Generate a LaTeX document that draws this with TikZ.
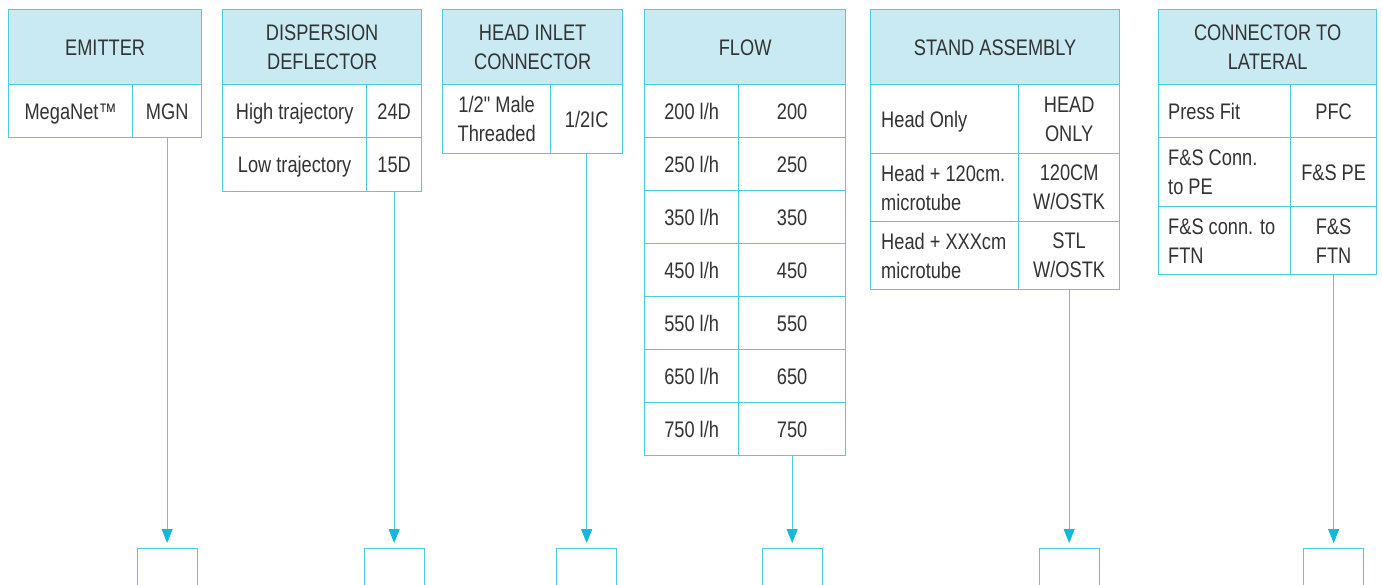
\documentclass[tikz,border=0pt]{standalone}
\usepackage{fontspec}
\setmainfont{Liberation Sans}[FakeStretch=0.81]
\newfontfamily\plainf{Liberation Sans}[FakeStretch=0.81]
\usetikzlibrary{arrows.meta}
\definecolor{linec}{HTML}{4CCBE3}
\definecolor{hdfill}{HTML}{C9EAF3}
\definecolor{arrc}{HTML}{12B9D9}
\definecolor{txt}{HTML}{333333}
\begin{document}
\begin{tikzpicture}[x=1pt,y=-1pt,
  every node/.style={font=\fontsize{22.5}{29}\selectfont, text=txt, inner sep=0pt},
  hd/.style={draw=linec, fill=hdfill, line width=1.3pt, anchor=north west, align=center},
  cl/.style={draw=linec, fill=white, line width=1.3pt, anchor=north west, align=center},
  sl/.style={text height=16pt, text depth=0pt},
  lt/.style={anchor=west, align=left},
  outbox/.style={draw=linec, line width=1.3pt, anchor=north, minimum width=60pt, minimum height=70pt},
  conn/.style={draw=linec, line width=1pt, shorten >=5pt, -{Triangle[length=14pt,width=11pt,fill=arrc,color=arrc]}}]
\clip (0,0) rectangle (1382,584);
\fill[white] (0,0) rectangle (1382,584);
% EMITTER
\node[hd, sl, minimum width=193pt, minimum height=75pt] (eh) at (8,9) {EMITTER};
\node[cl, sl, minimum width=124pt, minimum height=53pt] (e1) at (8,84) {MegaNet™};
\node[cl, sl, minimum width=69pt, minimum height=53pt] (e2) at (132,84) {MGN};
% DISPERSION DEFLECTOR
\node[hd, minimum width=199pt, minimum height=75pt] (dh) at (222,9) {DISPERSION\\DEFLECTOR};
\node[cl, sl, minimum width=144pt, minimum height=53pt] (d1) at (222,84) {High trajectory};
\node[cl, sl, minimum width=55pt, minimum height=53pt] (d2) at (366,84) {24D};
\node[cl, sl, minimum width=144pt, minimum height=54pt] (d3) at (222,137) {Low trajectory};
\node[cl, sl, minimum width=55pt, minimum height=54pt] (d4) at (366,137) {15D};
% HEAD INLET CONNECTOR
\node[hd, minimum width=180pt, minimum height=75pt] (hh) at (442,9) {HEAD INLET\\CONNECTOR};
\node[cl, minimum width=108pt, minimum height=69pt] (h1) at (442,84) {{\plainf 1/2" Male}\\Threaded};
\node[cl, sl, minimum width=72pt, minimum height=69pt] (h2) at (550,84) {1/2IC};
% FLOW
\node[hd, sl, minimum width=201pt, minimum height=75pt] (fh) at (644,9) {FLOW};
\foreach \v [count=\i from 0] in {200,250,350,450,550,650,750} {
  \node[cl, sl, minimum width=94pt, minimum height=53pt] (fa\i) at (644,84+53*\i) {\v{} l/h};
  \node[cl, sl, minimum width=107pt, minimum height=53pt] (fb\i) at (738,84+53*\i) {\v};
}
% STAND ASSEMBLY
\node[hd, sl, minimum width=249pt, minimum height=75pt] (sh) at (870,9) {STAND ASSEMBLY};
\node[cl, minimum width=148pt, minimum height=69pt] (s1) at (870,84) {};
\node[lt, sl] (s1t) at ([xshift=11pt]s1.west) {Head Only};
\node[cl, minimum width=101pt, minimum height=69pt] (s2) at (1018,84) {HEAD\\ONLY};
\node[cl, minimum width=148pt, minimum height=68pt] (s3) at (870,153) {};
\node[lt] (s3t) at ([xshift=11pt]s3.west) {Head + 120cm.\\microtube};
\node[cl, minimum width=101pt, minimum height=68pt] (s4) at (1018,153) {120CM\\W/OSTK};
\node[cl, minimum width=148pt, minimum height=68pt] (s5) at (870,221) {};
\node[lt] (s5t) at ([xshift=11pt]s5.west) {Head + XXXcm\\microtube};
\node[cl, minimum width=101pt, minimum height=68pt] (s6) at (1018,221) {STL\\W/OSTK};
% CONNECTOR TO LATERAL
\node[hd, minimum width=218pt, minimum height=75pt] (lh) at (1158,9) {CONNECTOR TO\\LATERAL};
\node[cl, minimum width=132pt, minimum height=53pt] (l1) at (1158,84) {};
\node[lt, sl] (l1t) at ([xshift=10pt]l1.west) {Press Fit};
\node[cl, sl, minimum width=86pt, minimum height=53pt] (l2) at (1290,84) {PFC};
\node[cl, minimum width=132pt, minimum height=69pt] (l3) at (1158,137) {};
\node[lt] (l3t) at ([xshift=10pt]l3.west) {F\&S Conn.\\to PE};
\node[cl, sl, minimum width=86pt, minimum height=69pt] (l4) at (1290,137) {F\&S PE};
\node[cl, minimum width=132pt, minimum height=68pt] (l5) at (1158,206) {};
\node[lt] (l5t) at ([xshift=10pt]l5.west) {F\&S conn. to\\FTN};
\node[cl, minimum width=86pt, minimum height=68pt] (l6) at (1290,206) {F\&S\\FTN};
% output boxes
\node[outbox] (b1) at (e2.south |- 0,548) {};
\node[outbox] (b2) at (d4.south |- 0,548) {};
\node[outbox] (b3) at (h2.south |- 0,548) {};
\node[outbox] (b4) at (fb6.south |- 0,548) {};
\node[outbox] (b5) at (s6.south |- 0,548) {};
\node[outbox] (b6) at (l6.south |- 0,548) {};
% connectors
\draw[conn] (e2.south) -- (b1.north);
\draw[conn] (d4.south) -- (b2.north);
\draw[conn] (h2.south) -- (b3.north);
\draw[conn] (fb6.south) -- (b4.north);
\draw[conn] (s6.south) -- (b5.north);
\draw[conn] (l6.south) -- (b6.north);
\end{tikzpicture}
\end{document}
